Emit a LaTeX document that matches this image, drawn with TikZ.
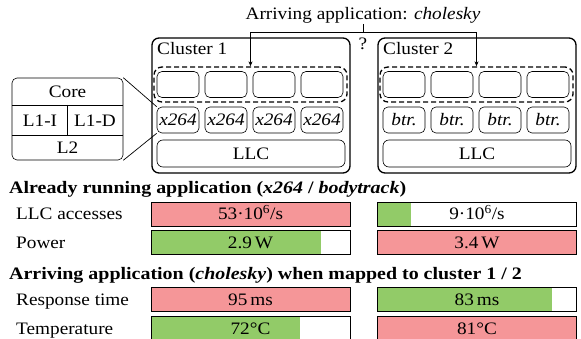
\documentclass[tikz,border=0pt]{standalone}
\usepackage{fontspec}
\setmainfont{Liberation Serif}[FakeStretch=1.1,BoldFeatures={FakeStretch=1.14},BoldItalicFeatures={FakeStretch=1.14}]
\usetikzlibrary{arrows.meta,calc}
\definecolor{barred}{RGB}{245,150,152}
\definecolor{bargreen}{RGB}{146,203,104}
\begin{document}
\begin{tikzpicture}[x=1pt,y=-1pt,font=\fontsize{17.5}{20}\selectfont,
  cluster/.style={draw,line width=1.3pt,rounded corners=7pt,minimum width=198pt,minimum height=135pt,inner sep=0pt},
  dashbox/.style={draw,line width=1.3pt,dash pattern=on 5pt off 3pt,rounded corners=8pt,minimum width=193pt,minimum height=35pt,inner sep=0pt},
  corebox/.style={draw,line width=0.6pt,rounded corners=5pt,minimum width=42pt,minimum height=26pt,inner sep=0pt},
  llcbox/.style={draw,line width=0.6pt,rounded corners=6pt,minimum width=188pt,minimum height=27pt,inner sep=0pt},
  detbox/.style={draw,line width=0.6pt,rounded corners=5pt,minimum width=111pt,minimum height=82pt,inner sep=0pt},
  arr/.style={line width=0.7pt,-{Stealth[length=5pt,width=4pt]}},
  thin/.style={line width=0.7pt},
  barbox/.style={draw,line width=0.9pt,minimum width=199pt,minimum height=24pt,inner sep=0pt,text height=12pt,text depth=0pt},
  frac/.style 2 args={path picture={\fill[#1] (path picture bounding box.north west) rectangle ($(path picture bounding box.south west)!#2!(path picture bounding box.south east)$);}},
  lbl/.style={anchor=base west,inner sep=0pt},
  hdr/.style={anchor=base west,inner sep=0pt,font=\fontsize{17.5}{20}\selectfont\bfseries}
]
\useasboundingbox (0,0) rectangle (581,339);

% title and arrows
\node[anchor=base,inner sep=0pt] (title) at (363,20) {Arriving application: \textit{cholesky}};
\node[anchor=base,inner sep=0pt] (q) at (363,50) {?};

% cluster 1
\node[cluster] (c1) at (251,105.5) {};
\node[lbl] (c1t) at (157,55) {Cluster 1};
\node[dashbox] (d1) at (250.5,84.5) {};
\foreach \i/\x in {1/178,2/226,3/274,4/322}{
  \node[corebox] (e1\i) at (\x,84.5) {};
  \node[corebox] (x1\i) at (\x,120) {\textit{x264}};
}
\node[llcbox] (l1) at (251,153.5) {LLC};

% cluster 2
\node[cluster] (c2) at (477,105.5) {};
\node[lbl] (c2t) at (383,55) {Cluster 2};
\node[dashbox] (d2) at (476.5,84.5) {};
\foreach \i/\x in {1/404,2/452,3/500,4/548}{
  \node[corebox] (e2\i) at (\x,84.5) {};
  \node[corebox] (x2\i) at (\x,120) {\textit{btr.}};
}
\node[llcbox] (l2) at (477,153.5) {LLC};

% arrows
\coordinate (j) at (363,32);
\draw[thin] (title.south) -- (j);
\draw[arr] (j) -| (d1.north);
\draw[arr] (j) -| (d2.north);

% core detail
\node[detbox] (det) at (67.5,119) {};
\draw[thin] (12,105) -- (123,105);
\draw[thin] (12,135) -- (123,135);
\draw[thin] (67.5,105) -- (67.5,135);
\node (core) at (67.5,92) {Core};
\node (l1i) at (40,120.5) {L1-I};
\node (l1d) at (95,120.5) {L1-D};
\node (l2c) at (67.5,148) {L2};
\draw[thin] (det.north east) -- (x11.north west);
\draw[thin] (det.south east) -- (x11.south west);

% bars section 1
\node[hdr] (h1) at (9,194) {Already running application (\textit{x264} / \textit{bodytrack})};
\node[lbl] (r1) at (16,220) {LLC accesses};
\node[lbl] (r2) at (16,248) {Power};
\node[barbox,frac={barred}{1}] (b11) at (250.5,214) {53·10\textsuperscript{6}/s};
\node[barbox,frac={bargreen}{0.17}] (b12) at (477,214) {9·10\textsuperscript{6}/s};
\node[barbox,frac={bargreen}{0.854}] (b21) at (250.5,242) {2.9\,W};
\node[barbox,frac={barred}{1}] (b22) at (477,242) {3.4\,W};

% bars section 2
\node[hdr] (h2) at (9,279) {Arriving application (\textit{cholesky}) when mapped to cluster 1 / 2};
\node[lbl] (r3) at (16,305.5) {Response time};
\node[lbl] (r4) at (16,334) {Temperature};
\node[barbox,frac={barred}{1}] (b31) at (250.5,299.5) {95\,ms};
\node[barbox,frac={bargreen}{0.875}] (b32) at (477,299.5) {83\,ms};
\node[barbox,frac={bargreen}{0.75}] (b41) at (250.5,328) {72°C};
\node[barbox,frac={barred}{1}] (b42) at (477,328) {81°C};
\end{tikzpicture}
\end{document}
